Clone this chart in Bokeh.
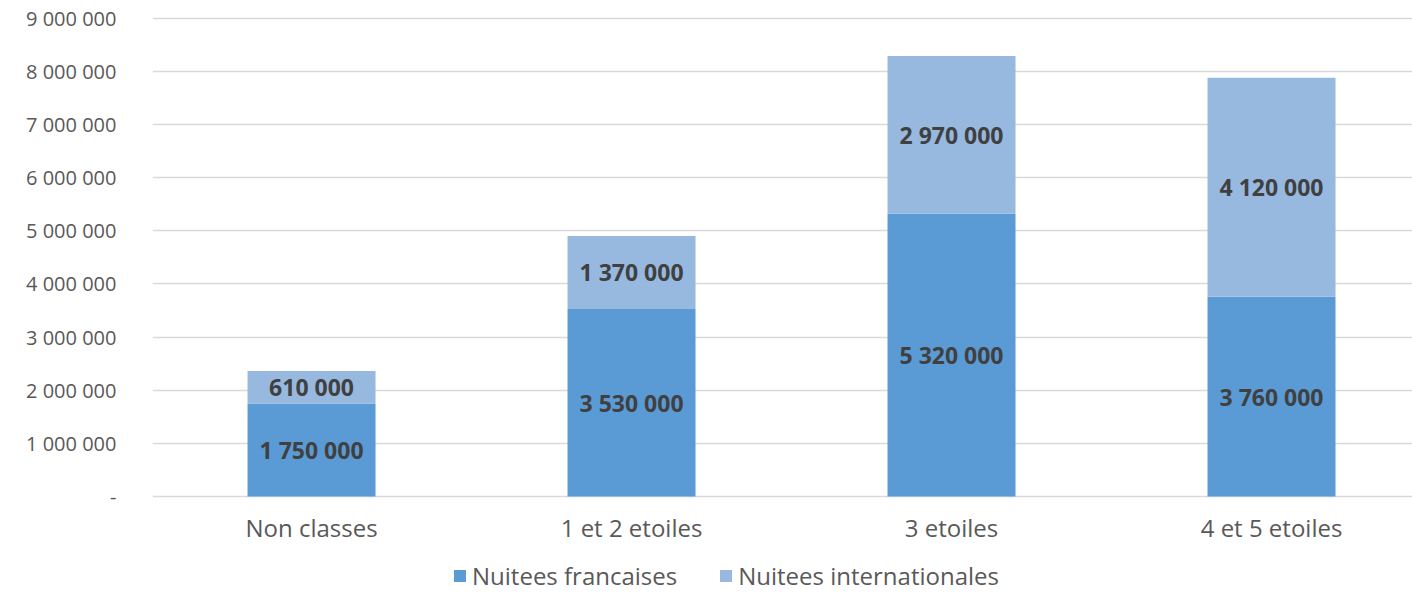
from bokeh.plotting import figure
from bokeh.models import ColumnDataSource, FixedTicker, CustomJSTickFormatter, Legend, LegendItem, Range1d
from bokeh.core.properties import value
from bokeh.embed import file_html
from bokeh.resources import INLINE

categories = ["Non classes", "1 et 2 etoiles", "3 etoiles", "4 et 5 etoiles"]
nuitees_francaises = [1750000, 3530000, 5320000, 3760000]
nuitees_internationales = [610000, 1370000, 2970000, 4120000]
series_names = ["Nuitees francaises", "Nuitees internationales"]
y_ticks = [0, 1000000, 2000000, 3000000, 4000000, 5000000, 6000000, 7000000, 8000000, 9000000]

FONT = "Open Sans"
C_FR = "#5B9BD5"
C_INT = "#97B9E0"

def fmt(v):
    return f"{v:,}".replace(",", " ")

x = list(range(len(categories)))
top_int = [a + b for a, b in zip(nuitees_francaises, nuitees_internationales)]

src = ColumnDataSource(dict(
    x=x,
    fr=nuitees_francaises,
    zero=[0] * len(x),
    top=top_int,
    fr_mid=[v / 2 for v in nuitees_francaises],
    int_mid=[a + b / 2 for a, b in zip(nuitees_francaises, nuitees_internationales)],
    fr_lbl=[fmt(v) for v in nuitees_francaises],
    int_lbl=[fmt(v) for v in nuitees_internationales],
))

# frame extends below zero so the category labels and legend sit inside it
p = figure(frame_width=1260, frame_height=578, x_axis_location=None,
           output_backend="svg", toolbar_location=None,
           x_range=Range1d(-0.497, 3.4406), y_range=Range1d(-1825000, 9050000),
           min_border_left=152, min_border_right=0, min_border_top=15, min_border_bottom=0)
p.outline_line_color = None
p.background_fill_color = "white"

r_fr = p.vbar(x="x", bottom="zero", top="fr", width=0.4, source=src, fill_color=C_FR, line_color=None)
r_int = p.vbar(x="x", bottom="fr", top="top", width=0.4, source=src, fill_color=C_INT, line_color=None)

for col_y, col_t in (("fr_mid", "fr_lbl"), ("int_mid", "int_lbl")):
    p.text(x="x", y=col_y, text=col_t, source=src, text_align="center", text_baseline="middle",
           text_font=value(FONT), text_font_size="23px", text_font_style="bold", text_color="#404040")

# category labels (x axis)
cat_src = ColumnDataSource(dict(x=x, y=[-583000] * len(x), label=categories))
p.text(x="x", y="y", text="label", source=cat_src, text_align="center", text_baseline="middle",
       text_font=value(FONT), text_font_size="24px", text_color="#595959")

p.yaxis.ticker = FixedTicker(ticks=y_ticks)
p.yaxis.formatter = CustomJSTickFormatter(code="""
if (tick == 0) return '-';
return Math.round(tick).toString().replace(/\\B(?=(\\d{3})+(?!\\d))/g, ' ');
""")
ax = p.yaxis[0]
ax.axis_line_color = None
ax.major_tick_line_color = None
ax.minor_tick_line_color = None
ax.major_label_text_font = FONT
ax.major_label_text_color = "#595959"
ax.major_label_text_font_size = "20px"
ax.major_label_standoff = 30

p.xgrid.grid_line_color = None
p.ygrid.grid_line_color = "#D9D9D9"
p.ygrid.grid_line_width = 1.3

legend = Legend(items=[LegendItem(label=series_names[0], renderers=[r_fr]),
                       LegendItem(label=series_names[1], renderers=[r_int])],
                orientation="horizontal", location=(300, 1),
                glyph_width=15, glyph_height=15, label_standoff=5, spacing=41,
                label_text_font=FONT, label_text_font_size="24px", label_text_color="#595959",
                border_line_color=None, background_fill_alpha=0, padding=0, margin=0)
p.add_layout(legend, "center")

open("out.html", "w").write(file_html(p, INLINE))
